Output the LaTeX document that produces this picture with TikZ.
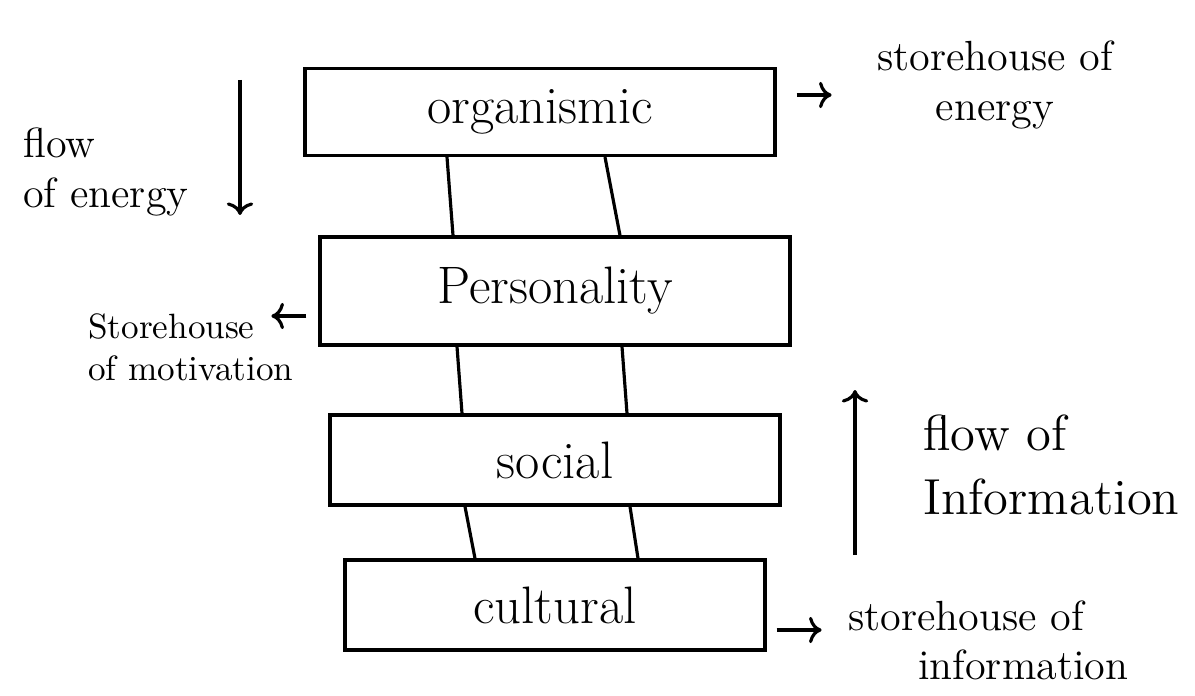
\documentclass[tikz,border=0pt]{standalone}
\usepackage{tikz}
\usetikzlibrary{arrows.meta}
\begin{document}
\begin{tikzpicture}[line width=0.9pt,
  layer/.style={draw,minimum height=0.9cm,font=\fontsize{15}{18}\selectfont},
  side/.style={align=left,anchor=west,font=\large}]
  \useasboundingbox (0,0) rectangle (11.95,-6.96);
  \node[layer,minimum width=4.7cm,minimum height=0.87cm] (org) at (5.4,-1.12) {organismic};
  \node[layer,minimum width=4.7cm,minimum height=1.08cm] (per) at (5.55,-2.91) {Personality};
  \node[layer,minimum width=4.5cm] (soc) at (5.55,-4.6) {social};
  \node[layer,minimum width=4.2cm] (cul) at (5.55,-6.05) {cultural};
  \foreach \a/\b/\p/\q/\r/\s in {org/per/-0.93/-1.02/0.65/0.65,
      per/soc/-0.98/-0.93/0.67/0.72, soc/cul/-0.9/-0.8/0.75/0.83} {
    \draw ([xshift=\p cm]\a.south) -- ([xshift=\q cm]\b.north);
    \draw ([xshift=\r cm]\a.south) -- ([xshift=\s cm]\b.north);
  }
  \node[side] (fe) at (0.1,-1.72) {flow\\of energy};
  \coordinate (fe1) at (2.4,-0.8);
  \coordinate (fe2) at (2.4,-2.15);
  \draw[->] (fe1) -- (fe2);
  \node[side,align=center,anchor=center] (se) at (9.95,-0.85) {storehouse of\\energy};
  \draw[->] ([shift={(0.2,0.17)}]org.east) -- ++(0.35,0);
  \node[side,font=\normalsize] (sm) at (0.75,-3.47) {Storehouse\\of motivation};
  \draw[->] ([shift={(-0.12,-0.25)}]per.west) -- ++(-0.35,0);
  \node[side,font=\Large] (fi) at (9.1,-4.65) {flow of\\Information};
  \coordinate (fi1) at (8.55,-5.55);
  \coordinate (fi2) at (8.55,-3.9);
  \draw[->] (fi1) -- (fi2);
  \node[side] (si) at (8.35,-6.4) {storehouse of\\\hspace*{0.7cm}information};
  \draw[->] ([shift={(0.1,-0.25)}]cul.east) -- ++(0.45,0);
\end{tikzpicture}
\end{document}
